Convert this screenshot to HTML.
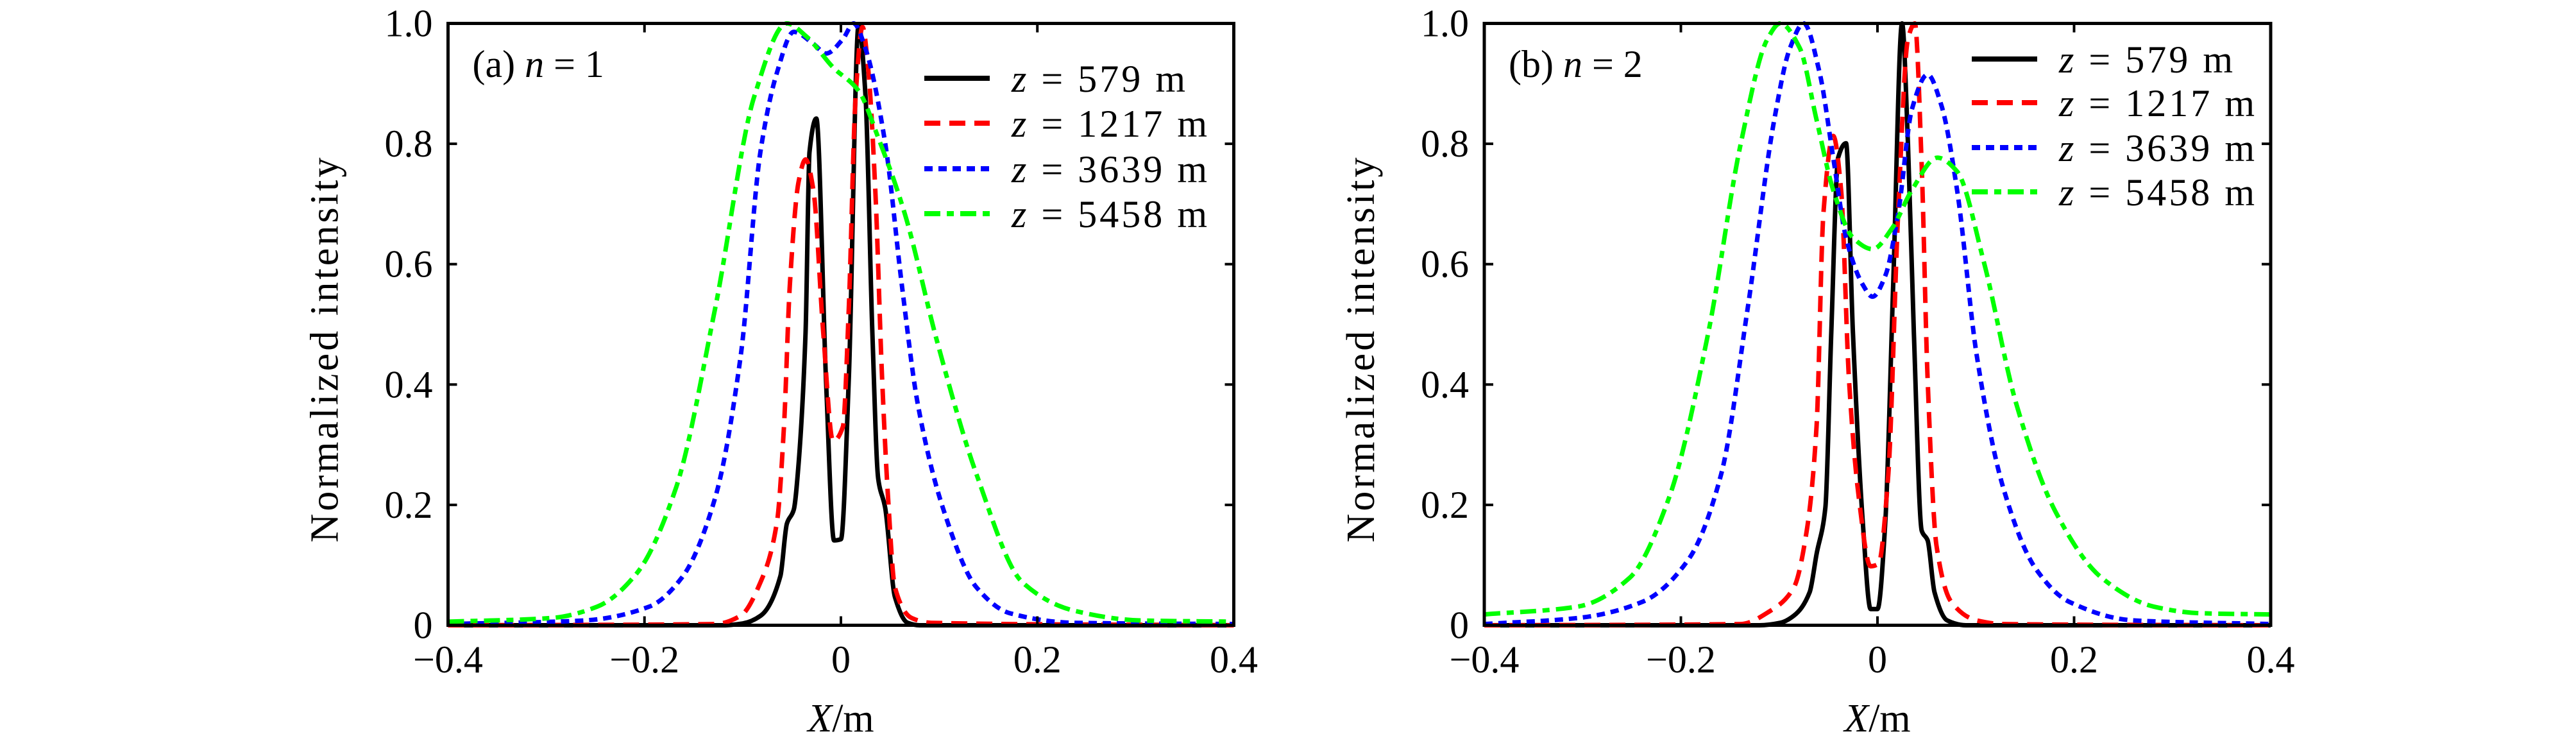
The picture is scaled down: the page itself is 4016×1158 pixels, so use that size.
<!DOCTYPE html>
<html><head><meta charset="utf-8"><style>
html,body{margin:0;padding:0;background:#fff;}
svg, svg text{font-family:"Liberation Serif","DejaVu Serif",serif;}
svg{display:block;}
</style></head><body>
<svg id="chart" width="4016" height="1158" viewBox="0 0 4016 1158" xmlns="http://www.w3.org/2000/svg" font-family="Liberation Serif, DejaVu Serif, serif"></svg>
<script>
// Panel (a) n=1 data
const a579x=[-0.4,-0.12,-0.100,-0.0816,-0.0616,-0.055,-0.048,-0.043,-0.036,-0.032,-0.025,-0.015,-0.007,0,0.008,0.018,0.025,0.032,0.038,0.045,0.055,0.068,0.08,0.4];
const a579y=[0,0,0.003,0.016,0.082,0.169,0.192,0.271,0.487,0.786,0.842,0.40,0.141,0.143,0.41,0.998,0.88,0.487,0.243,0.196,0.047,0.004,0,0];
const a1217x=[-0.4,-0.128,-0.102,-0.082,-0.065,-0.058,-0.052,-0.043,-0.036,-0.028,-0.018,-0.008,0.002,0.008,0.015,0.022,0.028,0.035,0.042,0.048,0.055,0.072,0.092,0.4];
const a1217y=[0,0.002,0.016,0.071,0.173,0.33,0.566,0.738,0.774,0.723,0.487,0.306,0.33,0.527,0.88,0.994,0.92,0.723,0.408,0.212,0.063,0.012,0.004,0];
const a3639x=[-0.4,-0.261,-0.195,-0.162,-0.128,-0.102,-0.082,-0.065,-0.048,-0.028,-0.015,0.002,0.013,0.025,0.045,0.062,0.078,0.105,0.138,0.172,0.238,0.4];
const a3639y=[0.002,0.008,0.031,0.079,0.212,0.448,0.786,0.919,0.986,0.966,0.95,0.974,1.0,0.958,0.802,0.566,0.37,0.189,0.063,0.02,0.004,0.002];
const a5458x=[-0.4,-0.295,-0.248,-0.208,-0.168,-0.128,-0.088,-0.055,-0.035,-0.008,0.018,0.038,0.065,0.098,0.138,0.185,0.238,0.305,0.4];
const a5458y=[0.006,0.012,0.031,0.086,0.228,0.527,0.88,1.0,0.978,0.927,0.888,0.81,0.684,0.471,0.251,0.071,0.024,0.008,0.006];
// Panel (b) n=2 data
const b579x=[-0.4,-0.12,-0.099,-0.085,-0.069,-0.062,-0.053,-0.047,-0.040,-0.032,-0.025,-0.015,-0.007,0,0.008,0.016,0.025,0.031,0.037,0.045,0.051,0.058,0.071,0.09,0.4];
const b579y=[0,0,0.004,0.016,0.055,0.118,0.196,0.487,0.777,0.801,0.487,0.173,0.027,0.027,0.173,0.566,1.0,0.801,0.487,0.157,0.141,0.055,0.008,0,0];
const b1217x=[-0.4,-0.139,-0.109,-0.085,-0.072,-0.062,-0.055,-0.045,-0.037,-0.029,-0.019,-0.007,0.001,0.011,0.021,0.031,0.038,0.045,0.051,0.06,0.075,0.101,0.128,0.4];
const b1217y=[0,0.002,0.024,0.063,0.157,0.33,0.684,0.813,0.723,0.408,0.212,0.098,0.102,0.251,0.684,0.974,1.0,0.762,0.408,0.133,0.039,0.008,0.002,0];
const b3639x=[-0.4,-0.305,-0.239,-0.192,-0.159,-0.132,-0.105,-0.089,-0.075,-0.059,-0.045,-0.032,-0.015,-0.005,0.008,0.021,0.035,0.051,0.065,0.081,0.101,0.128,0.161,0.195,0.261,0.4];
const b3639y=[0.002,0.012,0.039,0.11,0.251,0.527,0.84,0.959,1.0,0.919,0.777,0.644,0.566,0.546,0.581,0.684,0.857,0.915,0.864,0.723,0.448,0.228,0.094,0.039,0.008,0.002];
const b5458x=[-0.4,-0.305,-0.252,-0.212,-0.172,-0.139,-0.112,-0.099,-0.079,-0.062,-0.045,-0.025,-0.005,0.015,0.035,0.061,0.081,0.108,0.141,0.181,0.228,0.281,0.328,0.4];
const b5458y=[0.018,0.031,0.079,0.212,0.487,0.801,0.974,1.0,0.959,0.84,0.723,0.644,0.625,0.66,0.723,0.777,0.754,0.605,0.369,0.189,0.079,0.031,0.02,0.018];
const xTicks=[-0.4,-0.2,0,0.2,0.4];
const xTickLabels=["\u22120.4","\u22120.2","0","0.2","0.4"];
const yTicks=[0,0.2,0.4,0.6,0.8,1.0];
const yTickLabels=["0","0.2","0.4","0.6","0.8","1.0"];
const legendLabels=["z = 579 m","z = 1217 m","z = 3639 m","z = 5458 m"];

const NS="http://www.w3.org/2000/svg";
const FONT='"Liberation Serif","DejaVu Serif",serif';
const svg=document.getElementById('chart');
function mk(tag,attrs,parent){const e=document.createElementNS(NS,tag);for(const k in attrs)e.setAttribute(k,attrs[k]);if(tag==='text')e.style.fontFamily=FONT;(parent||svg).appendChild(e);return e;}
function monoPath(X,Y){
 const n=X.length,dx=[],m=[],t=[];
 for(let i=0;i<n-1;i++){dx[i]=X[i+1]-X[i];m[i]=(Y[i+1]-Y[i])/dx[i];}
 t[0]=m[0];t[n-1]=m[n-2];
 for(let i=1;i<n-1;i++){t[i]=(m[i-1]*m[i]<=0)?0:3*(dx[i-1]+dx[i])/((2*dx[i]+dx[i-1])/m[i-1]+(dx[i]+2*dx[i-1])/m[i]);}
 let d='M'+X[0].toFixed(1)+' '+Y[0].toFixed(1);
 for(let i=0;i<n-1;i++){const h=dx[i]/3;
  d+=' C'+(X[i]+h).toFixed(1)+' '+(Y[i]+t[i]*h).toFixed(1)+' '+(X[i+1]-h).toFixed(1)+' '+(Y[i+1]-t[i+1]*h).toFixed(1)+' '+X[i+1].toFixed(1)+' '+Y[i+1].toFixed(1);}
 return d;
}
const styles=[
 {stroke:"#000",dash:"none"},
 {stroke:"#ff0000",dash:"25 14"},
 {stroke:"#0000ff",dash:"13 9"},
 {stroke:"#00ff00",dash:"25 10 11 10"}];
const panels=[
 {id:"a",x0:698.5,x1:1923.5,label:"(a) ",n:"1",series:[[a579x,a579y],[a1217x,a1217y],[a3639x,a3639y],[a5458x,a5458y]],lgx:1441,lgy:[122,192,263,333]},
 {id:"b",x0:2314,x1:3540,label:"(b) ",n:"2",series:[[b579x,b579y],[b1217x,b1217y],[b3639x,b3639y],[b5458x,b5458y]],lgx:3074,lgy:[92,160,230,299]}];
const lgW=[271,305,305,305];
const y0=974.5,y1=36.5;
panels.forEach(p=>{
 const g=mk('g',{});
 
 
 const sx=v=>p.x0+(v+0.4)/0.8*(p.x1-p.x0);
 const sy=v=>y0-v*(y0-y1);
 p.series.forEach((s,i)=>{
  const d=monoPath(s[0].map(sx),s[1].map(sy));
  const path=mk('path',{d:d,fill:'none',stroke:styles[i].stroke,'stroke-width':7,'stroke-dasharray':styles[i].dash,'stroke-linejoin':'round'},g);
  
  
 });
 const fr=mk('rect',{x:p.x0,y:y1,width:p.x1-p.x0,height:y0-y1,fill:'none',stroke:'#000','stroke-width':5},g);
 
 
 xTicks.forEach((t,i)=>{
  const x=sx(t);
  mk('line',{x1:x,x2:x,y1:y0,y2:y0-14,stroke:'#000','stroke-width':4},g);
  mk('line',{x1:x,x2:x,y1:y1,y2:y1+14,stroke:'#000','stroke-width':4},g);
  const tx=mk('text',{x:x,y:1048,'font-size':60,'text-anchor':'middle'},g);
  tx.textContent=xTickLabels[i];
  
  
 });
 yTicks.forEach((t,i)=>{
  const y=sy(t);
  mk('line',{x1:p.x0,x2:p.x0+14,y1:y,y2:y,stroke:'#000','stroke-width':4},g);
  mk('line',{x1:p.x1,x2:p.x1-14,y1:y,y2:y,stroke:'#000','stroke-width':4},g);
  const tx=mk('text',{x:p.x0-24,y:y+20,'font-size':60,'text-anchor':'end'},g);
  tx.textContent=yTickLabels[i];
  
  
 });
 const xl=mk('text',{x:(p.x0+p.x1)/2,y:1140,'font-size':62,'text-anchor':'middle'},g);
 xl.innerHTML='<tspan font-style="italic">X</tspan>/m';
 
 
 const yl=mk('text',{x:0,y:0,'font-size':62,'text-anchor':'middle',textLength:600,transform:`translate(${p.x0-172},${(y0+y1)/2+40}) rotate(-90)`},g);
 yl.textContent='Normalized intensity';
 
 
 const pl=mk('text',{x:p.x0+38,y:120,'font-size':60},g);
 pl.innerHTML=p.label+'<tspan font-style="italic">n</tspan> = '+p.n;
 
 
 legendLabels.forEach((lab,i)=>{
  const y=p.lgy[i];
  const ln=mk('line',{x1:p.lgx,x2:p.lgx+102,y1:y,y2:y,stroke:styles[i].stroke,'stroke-width':8,'stroke-dasharray':styles[i].dash},g);
  
  
  const tx=mk('text',{x:p.lgx+136,y:y+21,'font-size':60,textLength:lgW[i]},g);
  tx.innerHTML='<tspan font-style="italic">z</tspan> = '+lab.slice(4);
  
  
 });
});
</script>
</body></html>
